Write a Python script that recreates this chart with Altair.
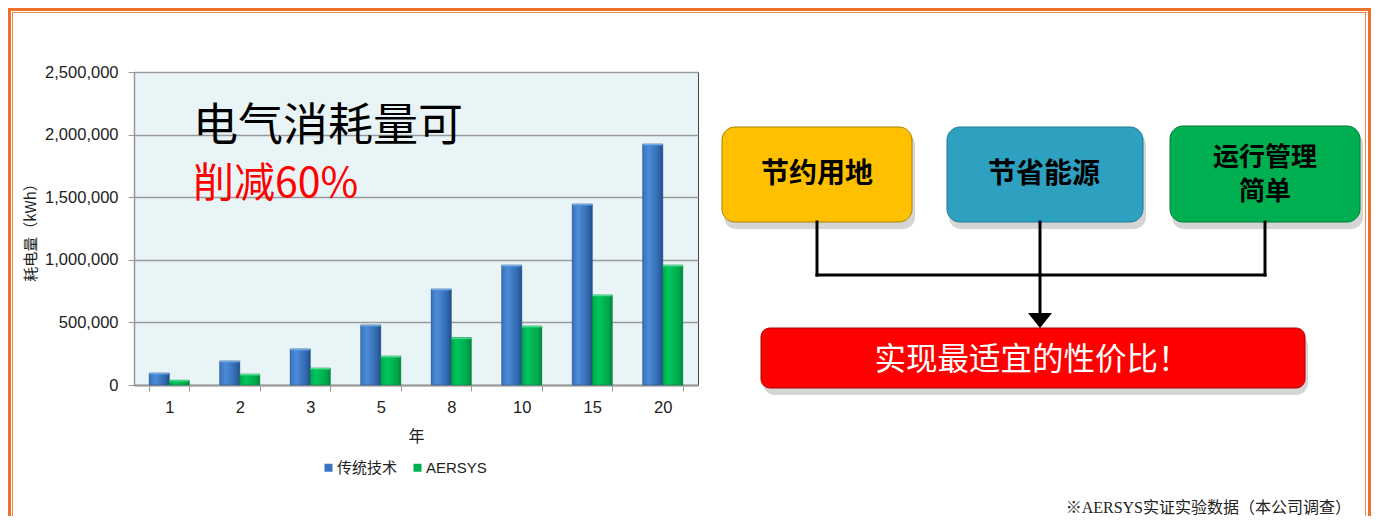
import altair as alt
import pandas as pd

# ---------------- chart data ----------------
years = ["1", "2", "3", "5", "8", "10", "15", "20"]
traditional = [96000, 192000, 288000, 480000, 767000, 958000, 1446000, 1925000]
aersys = [38000, 87000, 135000, 231000, 378000, 471000, 719000, 958000]
series_names = ["传统技术", "AERSYS"]
y_ticks = [0, 500000, 1000000, 1500000, 2000000, 2500000]
y_title = "耗电量（kWh）"
x_title = "年"
headline = "电气消耗量可"
headline_red = "削减60%"

# ---------------- diagram texts ----------------
box_labels = ["节约用地", "节省能源"]
box_labels_two_lines = ["运行管理", "简单"]
result_label = "实现最适宜的性价比！"
footnote = "※AERSYS实证实验数据（本公司调查）"

NUM_FONT = "Liberation Sans, Noto Sans CJK SC"
CJK_FONT = "Noto Sans CJK SC"

df = pd.DataFrame({
    "年": years * 2,
    "系列": [series_names[0]] * len(years) + [series_names[1]] * len(years),
    "值": traditional + aersys,
})

x_enc = alt.X(
    "年:N", sort=years, title=x_title,
    scale=alt.Scale(paddingInner=0.433, paddingOuter=0.2165),
    axis=alt.Axis(labelAngle=0, labelFont=NUM_FONT, labelFontSize=16.5, labelColor="#222",
                  labelPadding=8, tickBand="extent", tickSize=6, tickColor="#999",
                  domainColor="#999", domainWidth=2, grid=False,
                  titleFont=CJK_FONT, titleFontSize=16, titleFontWeight="normal",
                  titleColor="#222", titlePadding=13),
)
y_enc = alt.Y(
    "值:Q", title=y_title,
    scale=alt.Scale(domain=[0, 2500000], nice=False),
    axis=alt.Axis(values=y_ticks, format=",d", labelFont=NUM_FONT, labelFontSize=16.5,
                  labelColor="#222", labelPadding=10, tickSize=6, tickColor="#999",
                  domainColor="#999", domainWidth=1.5, gridColor="#999", gridWidth=1.5,
                  minExtent=90, maxExtent=90, titlePadding=6,
                  titleFont=CJK_FONT, titleFontSize=15, titleFontWeight="normal",
                  titleColor="#222"),
)
xoff = alt.XOffset("系列:N", sort=series_names,
                   scale=alt.Scale(domain=series_names, paddingInner=0, paddingOuter=0))

base = alt.Chart(df)

flat = base.mark_bar().encode(
    x=x_enc, y=y_enc, xOffset=xoff,
    color=alt.Color("系列:N", sort=series_names,
                    scale=alt.Scale(domain=series_names, range=["#3B73BF", "#00B050"]),
                    legend=alt.Legend(orient="none", legendX=187, legendY=388,
                                      direction="horizontal", title=None,
                                      symbolType="square", symbolSize=64,
                                      symbolStrokeWidth=0, labelFont=NUM_FONT,
                                      labelFontSize=15, labelColor="#222",
                                      labelOffset=1, columnPadding=12, padding=0)),
)

blue_grad = alt.LinearGradient(
    gradient="linear", x1=0, x2=1, y1=0, y2=0,
    stops=[alt.GradientStop(color="#3A72BC", offset=0),
           alt.GradientStop(color="#4C8CD8", offset=0.3),
           alt.GradientStop(color="#3068AE", offset=0.8),
           alt.GradientStop(color="#234E85", offset=1)])
green_grad = alt.LinearGradient(
    gradient="linear", x1=0, x2=1, y1=0, y2=0,
    stops=[alt.GradientStop(color="#00A84C", offset=0),
           alt.GradientStop(color="#00C65E", offset=0.3),
           alt.GradientStop(color="#00A84A", offset=0.8),
           alt.GradientStop(color="#008A3C", offset=1)])
blue_cap = alt.LinearGradient(
    gradient="linear", x1=0, x2=0, y1=0, y2=1,
    stops=[alt.GradientStop(color="#8FBDF0", offset=0),
           alt.GradientStop(color="#5A9AE0", offset=1)])
green_cap = alt.LinearGradient(
    gradient="linear", x1=0, x2=0, y1=0, y2=1,
    stops=[alt.GradientStop(color="#6FF0A8", offset=0),
           alt.GradientStop(color="#20D070", offset=1)])

blue_bars = base.transform_filter(alt.datum["系列"] == series_names[0]).mark_bar(
    color=blue_grad, stroke="#28558f", strokeWidth=0.6).encode(x=x_enc, y=y_enc, xOffset=xoff)
green_bars = base.transform_filter(alt.datum["系列"] == series_names[1]).mark_bar(
    color=green_grad, stroke="#00803a", strokeWidth=0.6).encode(x=x_enc, y=y_enc, xOffset=xoff)

# light bevel cap on top of each bar (about 4px tall)
cap_h = 13000
blue_caps = base.transform_filter(alt.datum["系列"] == series_names[0]).transform_calculate(
    cap_lo=f"max(datum['值'] - {cap_h}, 0)").mark_bar(
    color=blue_cap, opacity=0.85, cornerRadiusTopLeft=2, cornerRadiusTopRight=2).encode(
    x=x_enc, y=y_enc, y2="cap_lo:Q", xOffset=xoff)
green_caps = base.transform_filter(alt.datum["系列"] == series_names[1]).transform_calculate(
    cap_lo=f"max(datum['值'] - {cap_h}, 0)").mark_bar(
    color=green_cap, opacity=0.85, cornerRadiusTopLeft=2, cornerRadiusTopRight=2).encode(
    x=x_enc, y=y_enc, y2="cap_lo:Q", xOffset=xoff)

note_df = pd.DataFrame({"t": [headline]})
note = alt.Chart(note_df).mark_text(
    align="left", baseline="middle", font=CJK_FONT, fontSize=45, color="#000"
).encode(x=alt.value(59), y=alt.value(55), text="t:N")
note_df2 = pd.DataFrame({"t": [headline_red]})
note2 = alt.Chart(note_df2).mark_text(
    align="left", baseline="middle", font=CJK_FONT, fontSize=41, color="#FF0000"
).encode(x=alt.value(59), y=alt.value(113), text="t:N")

left = alt.layer(flat, blue_bars, green_bars, blue_caps, green_caps, note, note2).properties(
    width=564, height=313,
    view=alt.ViewBackground(fill="#E9F4F7", stroke="#444", strokeWidth=1),
)

# ---------------- diagram (right panel, pixel layout) ----------------
px = lambda f: alt.X(f, type="quantitative", scale=None)
py = lambda f: alt.Y(f, type="quantitative", scale=None)

boxes = pd.DataFrame({
    "x0": [10, 235, 458], "x1": [200, 431, 648],
    "y0": [55, 55, 54], "y1": [150, 150, 150],
    "fill": ["#FFC000", "#2EA0C0", "#00B050"],
    "edge": ["#A88200", "#1D7892", "#007A38"],
})
red_box = pd.DataFrame({"x0": [49], "x1": [593], "y0": [256], "y1": [316]})

shadow = alt.Chart(pd.concat([boxes[["x0", "x1", "y0", "y1"]], red_box])).mark_rect(
    cornerRadius=12, color="#888", opacity=0.35
).transform_calculate(sx0="datum.x0+2", sx1="datum.x1+3", sy0="datum.y0+6", sy1="datum.y1+7"
).encode(x=px("sx0:Q"), x2=alt.X2("sx1:Q"), y=py("sy0:Q"), y2=alt.Y2("sy1:Q"))

box_marks = alt.Chart(boxes).mark_rect(cornerRadius=13, strokeWidth=1).encode(
    x=px("x0:Q"), x2=alt.X2("x1:Q"), y=py("y0:Q"), y2=alt.Y2("y1:Q"),
    fill=alt.Fill("fill:N", scale=None), stroke=alt.Stroke("edge:N", scale=None),
)
red_marks = alt.Chart(red_box).mark_rect(cornerRadius=9, fill="#FF0000", stroke="#B00000",
                                         strokeWidth=1).encode(
    x=px("x0:Q"), x2=alt.X2("x1:Q"), y=py("y0:Q"), y2=alt.Y2("y1:Q"))

box_text_df = pd.DataFrame({"t": box_labels, "x": [105, 332], "y": [103, 103]})
box_text = alt.Chart(box_text_df).mark_text(
    font=CJK_FONT, fontSize=28, fontWeight="bold", color="#000", baseline="middle"
).encode(x=px("x:Q"), y=py("y:Q"), text="t:N")

box_text2_df = pd.DataFrame({"t": box_labels_two_lines, "x": [553, 553], "y": [86, 120]})
box_text2 = alt.Chart(box_text2_df).mark_text(
    font=CJK_FONT, fontSize=26, fontWeight="bold", color="#000", baseline="middle"
).encode(x=px("x:Q"), y=py("y:Q"), text="t:N")

result_df = pd.DataFrame({"t": [result_label], "x": [320], "y": [289]})
result_text = alt.Chart(result_df).mark_text(
    font=CJK_FONT, fontSize=31.5, color="#FFFFFF", baseline="middle"
).encode(x=px("x:Q"), y=py("y:Q"), text="t:N")

segs = pd.DataFrame({
    "x0": [105, 553, 105, 328], "x1": [105, 553, 553, 328],
    "y0": [150, 150, 203, 150], "y1": [203, 203, 203, 243],
})
connectors = alt.Chart(segs).mark_rule(color="#000", strokeWidth=3, strokeCap="square").encode(
    x=px("x0:Q"), x2=alt.X2("x1:Q"), y=py("y0:Q"), y2=alt.Y2("y1:Q"))

arrow_df = pd.DataFrame({"x": [328], "y": [248.5]})
arrow = alt.Chart(arrow_df).mark_point(
    shape="M-1,-0.625L1,-0.625L0,0.625Z", size=576, filled=True, color="#000", opacity=1
).encode(x=px("x:Q"), y=py("y:Q"))

foot_df = pd.DataFrame({"t": [footnote], "x": [639], "y": [436]})
foot = alt.Chart(foot_df).mark_text(
    font="Liberation Serif, Noto Sans CJK SC", fontSize=16, color="#222",
    align="right", baseline="middle"
).encode(x=px("x:Q"), y=py("y:Q"), text="t:N")

# orange double frame (kept inside the 1363px-wide page body)
frame = pd.DataFrame({
    "x0": [-704, -700, -704, -700, 656, 653],
    "x1": [659, 655, -701, -699, 659, 654],
    "y0": [-64, -60, -64, -60, -64, -60],
    "y1": [-61, -59, 444, 444, 444, 444],
    "c": ["#EE7029", "#F08A4B", "#EE7029", "#F08A4B", "#EE7029", "#F08A4B"],
})
frame_marks = alt.Chart(frame).mark_rect().encode(
    x=px("x0:Q"), x2=alt.X2("x1:Q"), y=py("y0:Q"), y2=alt.Y2("y1:Q"),
    fill=alt.Fill("c:N", scale=None))

right = alt.layer(frame_marks, shadow, box_marks, red_marks, connectors, arrow,
                  box_text, box_text2, result_text, foot).properties(
    width=640, height=313,
    view=alt.ViewBackground(stroke="transparent"),
)

chart = alt.hconcat(left, right, spacing=14, bounds="flush").properties(
    padding={"left": 0, "top": 0, "right": 0, "bottom": 0},
    background="#FFFFFF",
).configure_view(strokeWidth=0)

chart.save("out.html", embed_options={"renderer": "svg", "actions": False})
